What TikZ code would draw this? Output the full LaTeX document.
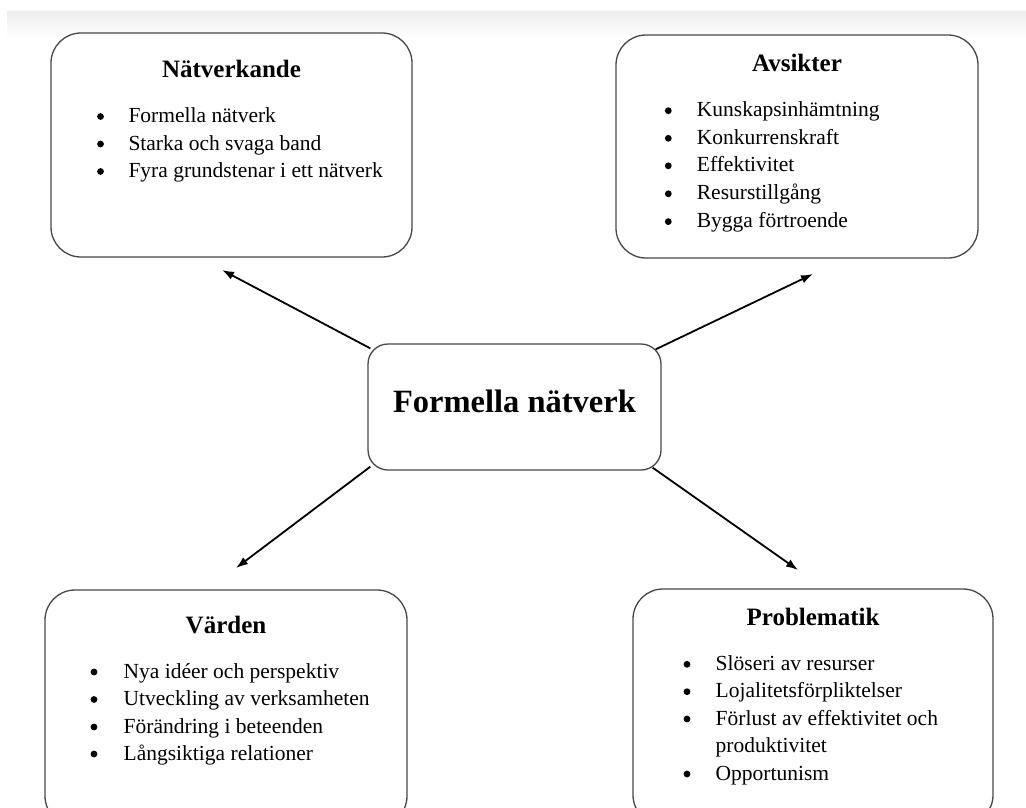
\documentclass[tikz,border=0pt]{standalone}
\usepackage{fontspec}
\setmainfont{Liberation Serif}
\usetikzlibrary{arrows.meta}
\begin{document}
\begin{tikzpicture}[x=1pt,y=-1pt,
 box/.style={draw=black!72, line width=1.3pt, rounded corners=30pt, inner sep=0pt},
 ttl/.style={anchor=base, inner sep=0pt, font=\fontsize{25}{30}\selectfont\bfseries},
 itm/.style={anchor=base west, inner sep=0pt, font=\fontsize{21.5}{26}\selectfont},
 bul/.style={fill=black},
 arr/.style={line width=1.8pt, -{Latex[length=12pt,width=8.5pt]}}]
\useasboundingbox (0,0) rectangle (1026,807);
\clip (0,0) rectangle (1026,807);
\fill[white] (0,0) rectangle (1026,807);
\shade[top color=black!7,bottom color=white] (7,11) rectangle (1026,38);

% boxes
\node[box, minimum width=361pt, minimum height=224pt] (nat) at (231.5,145) {};
\node[box, minimum width=362pt, minimum height=223pt] (avs) at (797,146.5) {};
\node[box, rounded corners=20pt, minimum width=293pt, minimum height=126pt] (c) at (514.5,407) {};
\node[box, minimum width=362pt, minimum height=236pt] (var) at (226,708) {};
\node[box, minimum width=360pt, minimum height=236pt] (pro) at (813,707) {};

% titles
\node[ttl] (natT) at (231.5,77.5) {Nätverkande};
\node[ttl] (avsT) at (797,71.5) {Avsikter};
\node[ttl] (varT) at (226,633) {Värden};
\node[ttl] (proT) at (813,625) {Problematik};
\node[anchor=base, inner sep=0pt, font=\fontsize{32.5}{38}\selectfont\bfseries] (cT) at (514.5,412) {Formella nätverk};

% Nätverkande items
\node[itm] (n1) at (128.3,122.5) {Formella nätverk};
\node[itm] (n2) at (128.3,150) {Starka och svaga band};
\node[itm] (n3) at (128.3,177.5) {Fyra grundstenar i ett nätverk};
\foreach \y in {122.5,150,177.5} \fill[bul] (100.5,\y-6) circle (3.4pt);

% Avsikter items
\node[itm] (a1) at (696.7,116.7) {Kunskapsinhämtning};
\node[itm] (a2) at (696.7,144.3) {Konkurrenskraft};
\node[itm] (a3) at (696.7,171.8) {Effektivitet};
\node[itm] (a4) at (696.7,199.8) {Resurstillgång};
\node[itm] (a5) at (696.7,227.6) {Bygga förtroende};
\foreach \y in {116.7,144.3,171.8,199.8,227.6} \fill[bul] (668.3,\y-6) circle (3.4pt);

% Värden items
\node[itm] (v1) at (123.5,678) {Nya idéer och perspektiv};
\node[itm] (v2) at (123.5,705.5) {Utveckling av verksamheten};
\node[itm] (v3) at (123.5,733) {Förändring i beteenden};
\node[itm] (v4) at (123.5,760) {Långsiktiga relationer};
\foreach \y in {678,705.5,733,760} \fill[bul] (94,\y-6) circle (3.4pt);

% Problematik items
\node[itm] (p1) at (715.5,670.3) {Slöseri av resurser};
\node[itm] (p2) at (715.5,697.7) {Lojalitetsförpliktelser};
\node[itm] (p3) at (715.5,725) {Förlust av effektivitet och};
\node[itm] (p3b) at (715.5,752) {produktivitet};
\node[itm] (p4) at (715.5,780) {Opportunism};
\foreach \y in {670.3,697.7,725,780} \fill[bul] (687,\y-6) circle (3.4pt);

% arrows
\coordinate (t1) at (222,270);
\coordinate (t2) at (813,274);
\coordinate (t3) at (236,568);
\coordinate (t4) at (798,570);
\draw[arr] ([shift={(3,5)}]c.north west) -- (t1);
\draw[arr] ([shift={(-6,6)}]c.north east) -- (t2);
\draw[arr] ([shift={(3,-4)}]c.south west) -- (t3);
\draw[arr] ([shift={(-9,-3)}]c.south east) -- (t4);
\end{tikzpicture}
\end{document}
